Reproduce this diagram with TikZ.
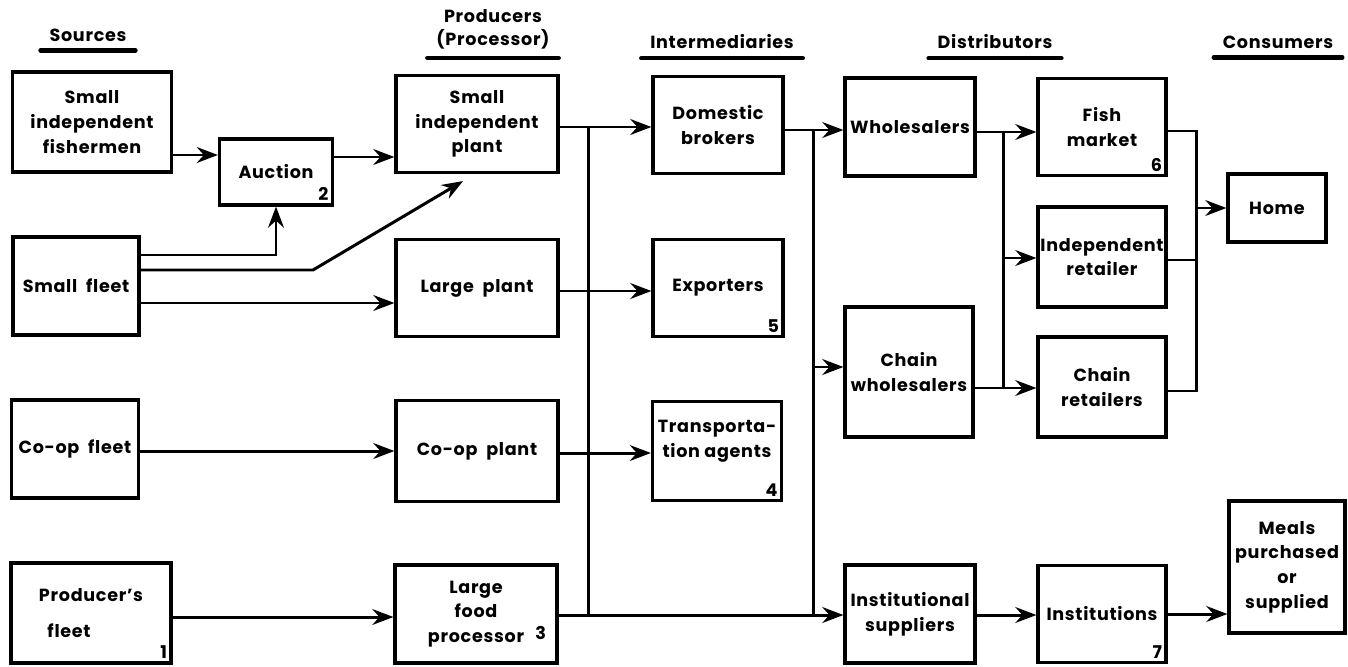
\documentclass[tikz,border=0pt]{standalone}
\usepackage{fontspec}
\setmainfont{Poppins}[LetterSpace=4]
\usetikzlibrary{arrows.meta,calc}

\begin{document}
\begin{tikzpicture}[x=0.02cm,y=-0.02cm,
  font=\bfseries\fontsize{10}{14}\selectfont,
  box/.style 2 args={draw,line width=1.8pt,align=center,inner sep=1pt,
     minimum width=#1*0.02cm,minimum height=#2*0.02cm},
  head/.style={align=center,inner xsep=5pt,inner ysep=5pt,font=\bfseries\fontsize{10}{13}\selectfont},
  uline/.style={line width=2.4pt,line cap=round},
  num/.style={anchor=south east,inner sep=3pt},
  ln/.style={line width=1.7pt},
  arr/.style={ln,-{Stealth[length=12pt,width=9pt,inset=4pt]}}]
  \useasboundingbox (0,0) rectangle (1348,666);
  % column headings
  \node[head] (hsrc) at (88,35) {Sources};
  \node[head] (hpro) at (493,29) {Producers\\(Processor)};
  \node[head] (hint) at (722,42) {Intermediaries};
  \node[head] (hdis) at (995,42) {Distributors};
  \node[head] (hcon) at (1278,42) {Consumers};
  \foreach \h in {hsrc,hpro,hint,hdis,hcon}
    \draw[uline] (\h.south west) -- (\h.south east);
  % sources
  \node[box={159}{100}] (fish) at (92,122) {Small\\independent\\fishermen};
  \node[box={113}{66}] (auc) at (276,172) {Auction};
  \node[num] (n2) at (auc.south east) {2};
  \node[box={126}{98}] (sfleet) at (76,286) {Small\enspace fleet};
  \node[box={127}{98}] (coop) at (75,449) {Co-op\enspace fleet};
  \node[box={160}{100}] (pfleet) at (91,613) {Producer's\\[6pt]fleet\hspace*{2.5em}};
  \node[num] (n1) at (pfleet.south east) {1};
  % producers
  \node[box={162}{97}] (splant) at (477,124) {Small\\independent\\plant};
  \node[box={162}{97}] (lplant) at (477,288) {Large\enspace plant};
  \node[box={162}{101}] (cplant) at (477,451) {Co-op\enspace plant};
  \node[box={162}{98}] (lfood) at (476,614) {Large\\food\\processor};
  \node[num] (n3) at ([shift={(-4pt,11pt)}]lfood.south east) {3};
  % intermediaries
  \node[box={130}{97}] (dom) at (718,125) {Domestic\\brokers};
  \node[box={130}{97}] (exp) at (718,288) {Exporters};
  \node[num] (n5) at (exp.south east) {5};
  \node[box={129}{99}] (trans) at (717,451) {Transporta-\\tion agents\\\mbox{}};
  \node[num] (n4) at (trans.south east) {4};
  % distributors
  \node[box={130}{98}] (whole) at (910,127) {Wholesalers};
  \node[box={128}{130}] (chainw) at (909,372) {Chain\\wholesalers};
  \node[box={130}{98}] (inst) at (910,614) {Institutional\\suppliers};
  \node[box={128}{97}] (fishm) at (1102,127) {Fish\\market};
  \node[num] (n6) at (fishm.south east) {6};
  \node[box={128}{100}] (indret) at (1102,257) {Independent\\retailer};
  \node[box={128}{100}] (chainr) at (1102,387) {Chain\\retailers};
  \node[box={128}{97}] (insts) at (1102,614) {Institutions};
  \node[num] (n7) at (insts.south east) {7};
  % consumers
  \node[box={98}{68}] (home) at (1277,208) {Home};
  \node[box={116}{132}] (meals) at (1287,567) {Meals\\purchased\\or\\supplied};
  % buses
  \coordinate (bus1) at (588,0);
  \coordinate (bus2) at (813,0);
  \coordinate (bus3) at (1003,0);
  \coordinate (bus4) at (1196,0);
  % sources to producers
  \draw[arr] (fish.east |- 0,155) -- (auc.west |- 0,155);
  \draw[arr] (auc.east |- 0,157) -- (splant.west |- 0,157);
  \draw[arr] (sfleet.east |- 0,255) -| (auc.south);
  \draw[arr] (sfleet.east |- 0,270) -- (313,270) -- ($(splant.south)+(-14,7)$);
  \draw[arr] (sfleet.east |- 0,303) -- (lplant.west |- 0,303);
  \draw[arr] (coop.east |- 0,451) -- (cplant.west |- 0,451);
  \draw[arr] (pfleet.east |- 0,617) -- (lfood.west |- 0,617);
  % producers to intermediaries
  \draw[arr] (splant.east |- 0,127) -- (dom.west |- 0,127);
  \draw[arr] (lplant.east |- 0,291) -- (exp.west |- 0,291);
  \draw[arr] (cplant.east |- 0,453) -- (trans.west |- 0,453);
  \draw[arr] (lfood.east |- 0,615) -- (inst.west |- 0,615);
  \draw[ln] (bus1 |- 0,127) -- (bus1 |- 0,615);
  \draw[ln] (bus2 |- 0,130) -- (bus2 |- 0,615);
  % intermediaries to distributors
  \draw[arr] (dom.east |- 0,130) -- (whole.west |- 0,130);
  \draw[arr] (bus2 |- 0,367) -- (chainw.west |- 0,367);
  \draw[arr] (whole.east |- 0,132) -- (fishm.west |- 0,132);
  \draw[ln] (bus3 |- 0,132) -- (bus3 |- 0,388);
  \draw[arr] (bus3 |- 0,258) -- (indret.west |- 0,258);
  \draw[arr] (chainw.east |- 0,388) -- (chainr.west |- 0,388);
  \draw[arr] (inst.east |- 0,615) -- (insts.west |- 0,615);
  % to consumers
  \draw[ln] (fishm.east |- 0,131) -| (bus4 |- 0,391) -- (chainr.east |- 0,391);
  \draw[ln] (indret.east |- 0,260) -- (bus4 |- 0,260);
  \draw[arr] (bus4 |- 0,208) -- (home.west |- 0,208);
  \draw[arr] (insts.east |- 0,614) -- (meals.west |- 0,614);
\end{tikzpicture}
\end{document}
